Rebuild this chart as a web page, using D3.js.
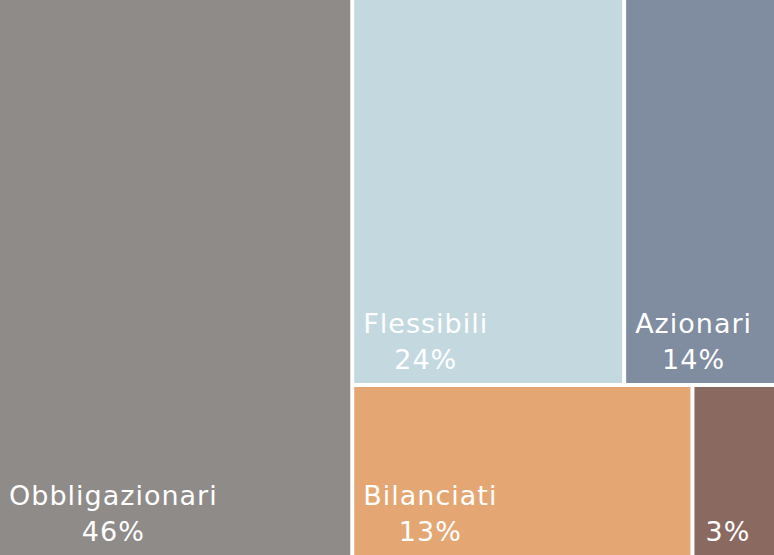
<!DOCTYPE html>
<html>
<head>
<meta charset="utf-8">
<script src="https://cdn.jsdelivr.net/npm/d3@7"></script>
<style>
  body { margin: 0; background: #fff; }
  svg { display: block; }
  .label { font-family: "DejaVu Sans", sans-serif; fill: #fff; font-size: 27px; letter-spacing: 1px; }
</style>
</head>
<body>
<div id="chart"></div>
<script>
// treemap data: top level is Obbligazionari + a right-hand group of two rows
const names = ["Obbligazionari", "Flessibili", "Azionari", "Bilanciati", ""];
const values = [45.3, 23.9, 13.7, 13.6, 3.5];
const labels = ["46%", "24%", "14%", "13%", "3%"];
const rows = [null, "top", "top", "bottom", "bottom"];
const colors = ["#8f8b89", "#c3d9df", "#808ca0", "#e4a672", "#8a6961"];

const width = 774, height = 555;

const svg = d3.select("#chart")
  .append("svg")
  .attr("width", width)
  .attr("height", height);

const items = names.map((n, i) => ({ name: n, value: values[i], label: labels[i], row: rows[i], color: colors[i] }));

const tree = {
  name: "root",
  children: [
    items[0],
    {
      name: "rest",
      children: [
        { name: "top", children: items.filter(d => d.row === "top") },
        { name: "bottom", children: items.filter(d => d.row === "bottom") }
      ]
    }
  ]
};

const root = d3.hierarchy(tree).sum(d => d.children ? 0 : d.value);

d3.treemap()
  .size([width + 4, height + 4])
  .tile(d3.treemapSliceDice)
  .paddingInner(4)
  (root);

const leaves = svg.selectAll(".leaf")
  .data(root.leaves())
  .enter().append("g")
  .attr("class", "leaf")
  .attr("transform", d => `translate(${d.x0},${d.y0})`);

leaves.append("rect")
  .attr("width", d => Math.min(d.x1, width) - d.x0)
  .attr("height", d => Math.min(d.y1, height) - d.y0)
  .attr("fill", d => d.data.color);

leaves.each(function(d) {
  const g = d3.select(this);
  const h = Math.min(d.y1, height) - d.y0;
  if (d.data.name) {
    const name = g.append("text")
      .attr("class", "label")
      .attr("x", 9)
      .attr("y", h - 50)
      .text(d.data.name);
    const w = name.node().getComputedTextLength();
    g.append("text")
      .attr("class", "label")
      .attr("x", 9 + w / 2)
      .attr("y", h - 14)
      .attr("text-anchor", "middle")
      .text(d.data.label);
  } else {
    g.append("text")
      .attr("class", "label")
      .attr("x", 11)
      .attr("y", h - 14)
      .text(d.data.label);
  }
});
</script>
</body>
</html>
